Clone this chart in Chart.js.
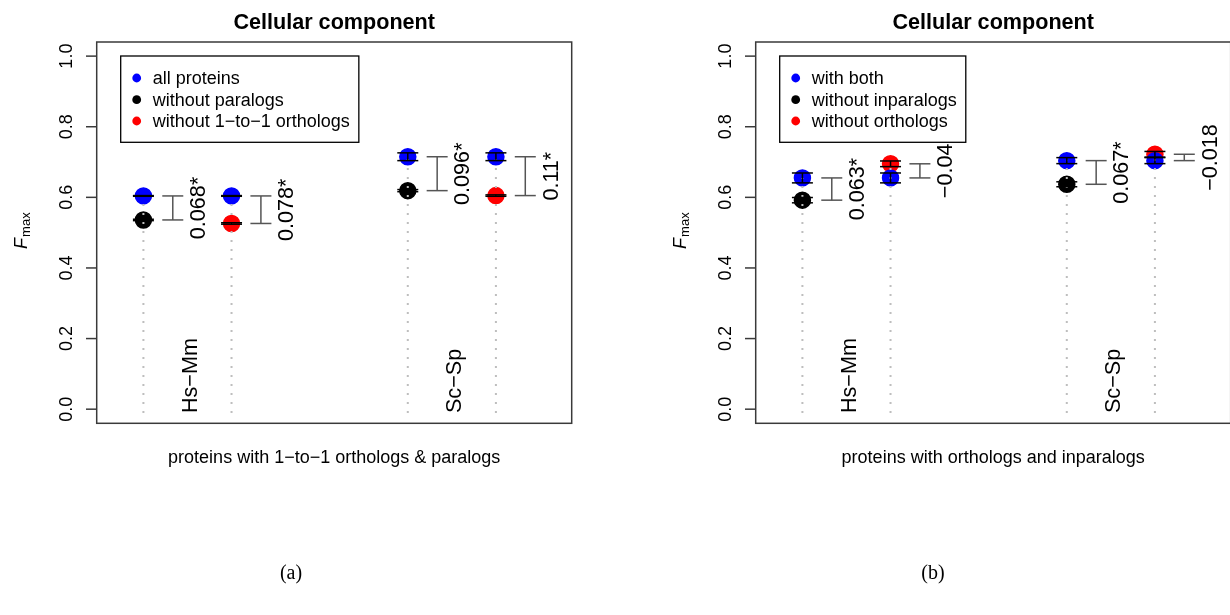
<!DOCTYPE html>
<html>
<head>
<meta charset="utf-8">
<script src="https://cdn.jsdelivr.net/npm/chart.js@4/dist/chart.umd.min.js"></script>
<style>
  html, body { margin: 0; padding: 0; background: #fff; }
  body { width: 1230px; height: 615px; overflow: hidden; position: relative; }
  canvas { position: absolute; top: 0; }
  #panelA { left: 0; }
  #panelB { left: 659px; }
  .sub { position: absolute; font-family: "Liberation Serif", "DejaVu Serif", serif; font-size: 20px; color: #000; transform: translateX(-50%); line-height: 20px; }
</style>
</head>
<body>
<canvas id="panelA" width="615" height="615"></canvas>
<canvas id="panelB" width="615" height="615"></canvas>
<div class="sub" style="left:291px; top:562px;">(a)</div>
<div class="sub" style="left:933px; top:562px;">(b)</div>
<script>
// ---- data ----
const groups = ['Hs\u2212Mm', 'Sc\u2212Sp'];
const yTicks = [0, 0.2, 0.4, 0.6, 0.8, 1.0];
const yTickLabels = ['0.0', '0.2', '0.4', '0.6', '0.8', '1.0'];

// (a) proteins with 1-to-1 orthologs & paralogs
const aSeries = ['all proteins', 'without paralogs', 'without 1\u2212to\u22121 orthologs'];
const aAll = [0.604, 0.715];
const aAllErr = [0.001, 0.011];
const aNoPara = [0.536, 0.619];
const aNoParaErr = [0.002, 0.003];
const aNoOrtho = [0.526, 0.605];
const aNoOrthoErr = [0.002, 0.002];
const aDiffPara = ['0.068*', '0.096*'];
const aDiffOrtho = ['0.078*', '0.11*'];

// (b) proteins with orthologs and inparalogs
const bSeries = ['with both', 'without inparalogs', 'without orthologs'];
const bBoth = [0.655, 0.704];
const bBothErr = [0.014, 0.0085];
const bNoInpara = [0.592, 0.637];
const bNoInparaErr = [0.0075, 0.007];
const bNoOrtho = [0.695, 0.722];
const bNoOrthoErr = [0.008, 0.008];
const bDiffInpara = ['0.063*', '0.067*'];
const bDiffOrtho = ['\u22120.04', '\u22120.018'];

// ---- drawing ----
const FONT = '"Liberation Sans", Arial, Helvetica, sans-serif';
const COLORS = ['#0000ff', '#000000', '#ff0000'];

function slotX(g, k) { return 1 + 3 * g + k; }

function vtext(ctx, text, x, y, align) {
  ctx.save();
  ctx.translate(x, y);
  ctx.rotate(-Math.PI / 2);
  ctx.textAlign = align;
  ctx.textBaseline = 'alphabetic';
  ctx.fillText(text, 0, 0);
  ctx.restore();
}

function line(ctx, x1, y1, x2, y2) {
  ctx.beginPath();
  ctx.moveTo(x1, y1);
  ctx.lineTo(x2, y2);
  ctx.stroke();
}

function buildPanel(p) {
  const refPts = [], alt1Pts = [], alt2Pts = [], comps = [];
  groups.forEach((_, g) => {
    refPts.push({ x: slotX(g, 0), y: p.ref[g], e: p.refErr[g] });
    refPts.push({ x: slotX(g, 1), y: p.ref[g], e: p.refErr[g] });
    alt1Pts.push({ x: slotX(g, 0), y: p.alt1[g], e: p.alt1Err[g] });
    alt2Pts.push({ x: slotX(g, 1), y: p.alt2[g], e: p.alt2Err[g] });
    comps.push({ x: slotX(g, 0), a: p.ref[g], b: p.alt1[g], label: p.diff1[g] });
    comps.push({ x: slotX(g, 1), a: p.ref[g], b: p.alt2[g], label: p.diff2[g] });
  });

  const decor = {
    id: 'decor',
    afterDatasetsDraw(chart) {
      const ctx = chart.ctx;
      const xs = chart.scales.x, ys = chart.scales.y;
      const area = chart.chartArea;
      const X = v => xs.getPixelForValue(v);
      const Y = v => ys.getPixelForValue(v);
      ctx.save();

      // dotted drop lines from the base up to the highest point of each slot
      ctx.strokeStyle = '#bebebe';
      ctx.lineWidth = 2;
      ctx.setLineDash([2, 7]);
      comps.forEach(c => {
        const top = Math.max(c.a, c.b);
        line(ctx, X(c.x), Y(-0.011), X(c.x), Y(top));
      });
      ctx.setLineDash([]);

      // error bars
      ctx.strokeStyle = '#000';
      ctx.lineWidth = 1.5;
      const cap = 10.5;
      [refPts, alt1Pts, alt2Pts].forEach(pts => pts.forEach(pt => {
        const px = X(pt.x), y1 = Y(pt.y - pt.e), y2 = Y(pt.y + pt.e);
        line(ctx, px, y1, px, y2);
        line(ctx, px - cap, y1, px + cap, y1);
        line(ctx, px - cap, y2, px + cap, y2);
      }));

      // difference brackets and their labels
      ctx.strokeStyle = '#555';
      ctx.fillStyle = '#000';
      ctx.font = '21.6px ' + FONT;
      comps.forEach(c => {
        const bx = X(c.x + 1 / 3), ya = Y(c.a), yb = Y(c.b);
        line(ctx, bx, ya, bx, yb);
        line(ctx, bx - cap, ya, bx + cap, ya);
        line(ctx, bx - cap, yb, bx + cap, yb);
        vtext(ctx, c.label, X(c.x) + 61.7, (ya + yb) / 2, 'center');
      });

      // group labels
      groups.forEach((name, g) => {
        vtext(ctx, name, X(slotX(g, 0) + 0.5) + 9.3, Y(-0.011), 'left');
      });

      // plot box
      ctx.strokeStyle = '#3a3a3a';
      ctx.lineWidth = 1.5;
      ctx.strokeRect(area.left, area.top, area.right - area.left, area.bottom - area.top);

      // y axis ticks and labels
      ctx.font = '18px ' + FONT;
      yTicks.forEach((t, i) => {
        const ty = Y(t);
        line(ctx, area.left - 10.7, ty, area.left, ty);
        vtext(ctx, yTickLabels[i], area.left - 25, ty, 'center');
      });

      // y axis title F_max
      const midY = (area.top + area.bottom) / 2 - 2;
      ctx.font = 'italic 18px ' + FONT;
      const wF = ctx.measureText('F').width;
      ctx.font = '13px ' + FONT;
      const wSub = ctx.measureText('max').width;
      const startY = midY + (wF + 1 + wSub) / 2;
      ctx.save();
      ctx.translate(area.left - 70, startY);
      ctx.rotate(-Math.PI / 2);
      ctx.textAlign = 'left';
      ctx.textBaseline = 'alphabetic';
      ctx.font = 'italic 18px ' + FONT;
      ctx.fillText('F', 0, 0);
      ctx.font = '13px ' + FONT;
      ctx.fillText('max', wF + 1, 3);
      ctx.restore();

      // title
      const cx = (area.left + area.right) / 2;
      ctx.textAlign = 'center';
      ctx.textBaseline = 'alphabetic';
      ctx.font = 'bold 21.6px ' + FONT;
      ctx.fillText(p.title, cx, 28.5);

      // x axis title
      ctx.font = '18px ' + FONT;
      ctx.fillText(p.xLabel, cx, 463);

      // legend
      ctx.font = '18px ' + FONT;
      const lx = area.left + 24, ly = area.top + 14;
      const maxW = Math.max(...p.series.map(s => ctx.measureText(s).width));
      const lw = 32 + maxW + 9, lh = 86.3;
      ctx.fillStyle = '#fff';
      ctx.fillRect(lx, ly, lw, lh);
      ctx.strokeStyle = '#000';
      ctx.lineWidth = 1.3;
      ctx.strokeRect(lx, ly, lw, lh);
      const rows = [22, 43.7, 65];
      p.series.forEach((s, i) => {
        const ry = ly + rows[i];
        ctx.fillStyle = COLORS[i];
        ctx.beginPath();
        ctx.arc(lx + 16, ry, 4.4, 0, Math.PI * 2);
        ctx.fill();
        ctx.fillStyle = '#000';
        ctx.textAlign = 'left';
        ctx.fillText(s, lx + 32, ry + 6.3);
      });

      ctx.restore();
    }
  };

  const mk = (label, pts, color) => ({
    label, data: pts, backgroundColor: color, borderColor: color,
    pointRadius: 8, pointHoverRadius: 8, pointBorderWidth: 1.5, showLine: false
  });

  return new Chart(document.getElementById(p.canvas), {
    type: 'scatter',
    data: {
      // first dataset is painted last, so the reference series sits on top
      datasets: [
        mk(p.series[0], refPts, COLORS[0]),
        mk(p.series[1], alt1Pts, COLORS[1]),
        mk(p.series[2], alt2Pts, COLORS[2])
      ]
    },
    options: {
      responsive: false,
      animation: false,
      devicePixelRatio: 1,
      events: [],
      layout: { padding: { left: 96.7, right: 615 - 571.7, top: 42, bottom: 615 - 423.3 } },
      plugins: { legend: { display: false }, tooltip: { enabled: false }, title: { display: false } },
      scales: {
        x: { type: 'linear', min: 0.47, max: 5.86, display: false },
        y: { type: 'linear', min: -0.04, max: 1.04, display: false }
      }
    },
    plugins: [decor]
  });
}

buildPanel({
  canvas: 'panelA', title: 'Cellular component',
  xLabel: 'proteins with 1\u2212to\u22121 orthologs & paralogs',
  series: aSeries,
  ref: aAll, refErr: aAllErr,
  alt1: aNoPara, alt1Err: aNoParaErr,
  alt2: aNoOrtho, alt2Err: aNoOrthoErr,
  diff1: aDiffPara, diff2: aDiffOrtho
});

buildPanel({
  canvas: 'panelB', title: 'Cellular component',
  xLabel: 'proteins with orthologs and inparalogs',
  series: bSeries,
  ref: bBoth, refErr: bBothErr,
  alt1: bNoInpara, alt1Err: bNoInparaErr,
  alt2: bNoOrtho, alt2Err: bNoOrthoErr,
  diff1: bDiffInpara, diff2: bDiffOrtho
});
</script>
</body>
</html>
